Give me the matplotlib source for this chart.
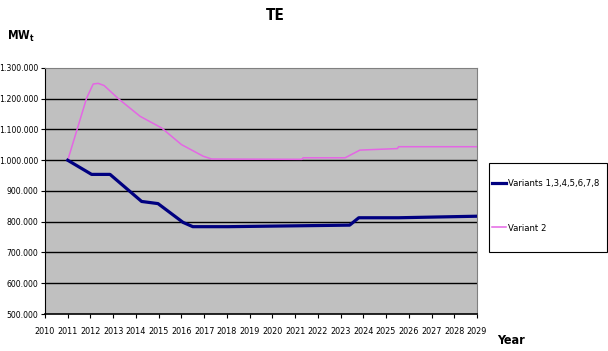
import matplotlib
matplotlib.use("Agg")
import matplotlib.pyplot as plt
from matplotlib.patches import Rectangle
from matplotlib.ticker import FuncFormatter

plt.rcParams['font.family'] = ['DejaVu Sans']
plt.rcParams['font.stretch'] = 'condensed'
plt.rcParams['mathtext.fontset'] = 'dejavusans'

# values (MWt)
years_v1 = [2011, 2012.05, 2012.86, 2014.25, 2014.97, 2016.07, 2016.5, 2018.06,
            2023.4, 2023.8, 2025.55, 2029]
variants_1 = [1000000, 954000, 954000, 866000, 859000, 798000, 784000, 784000,
              789000, 813000, 813000, 818000]

years_v2 = [2011, 2011.83, 2012.12, 2012.34, 2012.6, 2013.23, 2014.18, 2015.13,
            2016.0, 2016.96, 2017.33, 2021.3, 2021.35, 2023.2, 2023.85, 2025.5,
            2025.55, 2029]
variant_2 = [1000000, 1202000, 1248000, 1250000, 1243000, 1200000, 1143000, 1105000,
             1051000, 1013000, 1004000, 1003000, 1008000, 1008000, 1033000, 1038000,
             1044000, 1044000]

year_ticks = list(range(2010, 2030))
y_ticks = list(range(500000, 1300001, 100000))

fig = plt.figure(figsize=(6.08, 3.51), dpi=100)
ax = fig.add_axes([45/608, 37/351, 432/608, 246/351])
ax.set_facecolor('#c0c0c0')

for v in y_ticks[1:-1]:
    ax.axhline(v, color='black', lw=1.0, zorder=1)

l1, = ax.plot(years_v1, variants_1, color='#000080', lw=2.3, zorder=3,
              label='Variants 1,3,4,5,6,7,8')
l2, = ax.plot(years_v2, variant_2, color='#e466e4', lw=1.1, zorder=2,
              label='Variant 2')

ax.set_xlim(2010, 2029)
ax.set_ylim(500000, 1300000)
ax.set_xticks(year_ticks)
ax.set_xticklabels([str(y) for y in year_ticks])
ax.set_yticks(y_ticks)
ax.yaxis.set_major_formatter(FuncFormatter(lambda v, p: f"{int(v):,}".replace(',', '.')))
ax.tick_params(axis='both', labelsize=6.2, length=3, width=0.8, direction='out')
ax.tick_params(axis='x', labelsize=6.5, pad=6)
ax.tick_params(axis='y', pad=2)

ax.spines['top'].set_color('#808080')
ax.spines['right'].set_color('#808080')
ax.spines['left'].set_color('black')
ax.spines['bottom'].set_color('black')
ax.spines['bottom'].set_linewidth(1.2)

fig.text(275/608, 1 - 16/351, 'TE', fontsize=11, ha='center', va='center', weight='bold')
fig.text(7/608, 1 - 36/351, r'MW$_\mathregular{t}$', fontsize=8.5, ha='left', va='center',
         weight='bold')
fig.text(497/608, 1 - 340/351, 'Year', fontsize=9, ha='left', va='center', weight='bold')

# legend box drawn separately so it can be taller than the entries need
fig.patches.append(Rectangle((489/608, 1 - 252/351), 118/608, 89/351,
                             transform=fig.transFigure, facecolor='white',
                             edgecolor='black', lw=0.8, zorder=0))
leg = fig.legend(handles=[l1, l2], loc='center left',
                 bbox_to_anchor=(492/608, 1 - 206/351), fontsize=6.8,
                 frameon=False, borderaxespad=0, borderpad=0,
                 labelspacing=3.75, handlelength=1.5, handletextpad=0.15)

fig.savefig('out.png', dpi=100)
